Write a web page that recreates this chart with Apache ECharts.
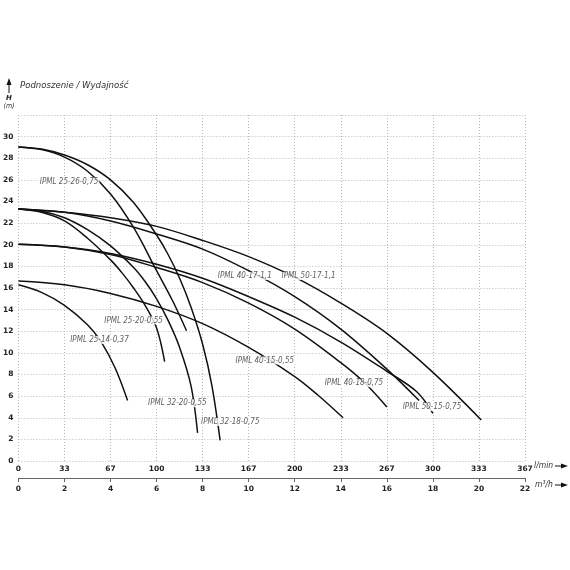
<!DOCTYPE html>
<html>
<head>
<meta charset="utf-8">
<script src="https://cdn.jsdelivr.net/npm/echarts@6/dist/echarts.min.js"></script>
<style>
  html, body { margin: 0; padding: 0; background: #fff; }
  #chart { width: 570px; height: 570px; }
</style>
</head>
<body>
<div id="chart"></div>
<script>
// axis ticks
const flowLpm = ['0', '33', '67', '100', '133', '167', '200', '233', '267', '300', '333', '367'];
const headMax = 32;

// pump curves: flow in m3/h, head in m
const q_25_14 = [0, 1, 2, 3, 3.6, 4.2, 4.74];
const h_25_14 = [16.3, 15.6, 14.4, 12.6, 11.0, 8.6, 5.6];

const q_25_20 = [0, 1, 2, 3, 4, 4.5, 5, 5.5, 6, 6.35];
const h_25_20 = [23.3, 23.0, 22.2, 20.6, 18.6, 17.4, 16.0, 14.4, 12.3, 9.2];

const q_25_26 = [0, 1, 2, 3, 4, 5, 6, 6.7, 7.3];
const h_25_26 = [29.05, 28.8, 28.1, 26.8, 24.7, 21.6, 17.6, 14.8, 12.05];

const q_32_20 = [0, 1, 2, 3, 4, 5, 5.5, 6, 6.5, 7, 7.5, 7.78];
const h_32_20 = [23.3, 23.1, 22.5, 21.4, 19.9, 17.9, 16.6, 15.0, 13.0, 10.5, 6.9, 2.6];

const q_32_18 = [0, 1, 2, 3, 4, 5, 6, 6.5, 7, 7.5, 8, 8.4, 8.76];
const h_32_18 = [29.05, 28.85, 28.3, 27.4, 26.0, 23.9, 20.9, 19.1, 16.9, 14.2, 10.8, 7.0, 1.9];

const q_40_15 = [0, 2, 4, 6, 8, 10, 12, 13, 14.1];
const h_40_15 = [16.65, 16.3, 15.5, 14.3, 12.7, 10.5, 7.8, 6.1, 4.0];

const q_40_17 = [0, 2, 4, 6, 8, 10, 12, 14, 16, 17.4];
const h_40_17 = [23.3, 23.0, 22.2, 21.0, 19.6, 17.6, 15.2, 12.2, 8.5, 5.6];

const q_40_18 = [0, 2, 4, 6, 8, 10, 12, 14, 15, 16];
const h_40_18 = [20.05, 19.8, 19.1, 17.9, 16.5, 14.6, 12.2, 9.1, 7.3, 5.0];

const q_50_15 = [0, 2, 4, 6, 8, 10, 12, 14, 16, 17.3, 18];
const h_50_15 = [20.05, 19.8, 19.2, 18.2, 16.9, 15.2, 13.3, 11.0, 8.3, 6.4, 4.4];

const q_50_17 = [0, 2, 4, 6, 8, 10, 12, 14, 16, 18, 20.1];
const h_50_17 = [23.3, 23.0, 22.5, 21.7, 20.4, 18.9, 17.0, 14.6, 11.8, 8.2, 3.8];

const curveNames = [
  'IPML 25-14-0,37', 'IPML 25-20-0,55', 'IPML 25-26-0,75', 'IPML 32-20-0,55', 'IPML 32-18-0,75',
  'IPML 40-15-0,55', 'IPML 40-17-1,1', 'IPML 40-18-0,75', 'IPML 50-15-0,75', 'IPML 50-17-1,1'
];
const curveQ = [q_25_14, q_25_20, q_25_26, q_32_20, q_32_18, q_40_15, q_40_17, q_40_18, q_50_15, q_50_17];
const curveH = [h_25_14, h_25_20, h_25_26, h_32_20, h_32_18, h_40_15, h_40_17, h_40_18, h_50_15, h_50_17];

const NARROW = "'DejaVu Sans Condensed', 'Liberation Sans Narrow', sans-serif";

const chart = echarts.init(document.getElementById('chart'));

const lineSeries = curveNames.map((name, i) => ({
  name: name,
  type: 'line',
  xAxisIndex: 1,
  data: curveQ[i].map((q, j) => [q, curveH[i][j]]),
  showSymbol: false,
  smooth: 0.35,
  lineStyle: { color: '#111', width: 1.5 },
  z: 2
}));

// where each name sits on its curve (m3/h, m)
const labelSeries = {
  type: 'scatter',
  xAxisIndex: 1,
  symbolSize: 1,
  itemStyle: { color: 'rgba(0,0,0,0)' },
  z: 10,
  silent: true,
  data: [
    [3.52, 11.2, curveNames[0]],
    [5.0, 13.0, curveNames[1]],
    [2.2, 25.85, curveNames[2]],
    [6.9, 5.35, curveNames[3]],
    [9.2, 3.6, curveNames[4]],
    [10.7, 9.3, curveNames[5]],
    [9.83, 17.1, curveNames[6]],
    [12.6, 17.1, curveNames[9]],
    [14.57, 7.2, curveNames[7]],
    [17.96, 5.0, curveNames[8]]
  ],
  label: {
    show: true,
    position: 'inside',
    formatter: p => p.value[2],
    fontFamily: NARROW,
    fontStyle: 'italic',
    fontSize: 8,
    color: '#333',
    backgroundColor: '#fff',
    padding: [0, 1]
  }
};

const gridLine = { show: true, lineStyle: { color: '#b8b8b8', type: [1, 2], width: 1 } };
const tickFont = { fontFamily: 'DejaVu Sans', fontWeight: 'bold', fontSize: 7.5, color: '#222' };

chart.setOption({
  animation: false,
  backgroundColor: '#fff',
  grid: { left: 18, right: 45, top: 115, bottom: 109 },
  xAxis: [
    {
      type: 'value', min: 0, max: 22, interval: 2, position: 'bottom', offset: 0,
      axisLine: { show: false }, axisTick: { show: false },
      axisLabel: Object.assign({ margin: 4, formatter: v => flowLpm[Math.round(v / 2)] }, tickFont),
      splitLine: gridLine
    },
    {
      type: 'value', min: 0, max: 22, interval: 2, position: 'bottom', offset: 17,
      axisLine: { show: true, lineStyle: { color: '#666', width: 1 } },
      axisTick: { show: true, length: 4, lineStyle: { color: '#666' } },
      axisLabel: Object.assign({ margin: 7 }, tickFont),
      splitLine: { show: false }
    }
  ],
  yAxis: {
    type: 'value', min: 0, max: headMax, interval: 2,
    axisLine: { show: false }, axisTick: { show: false },
    axisLabel: Object.assign({ margin: 5, formatter: v => (v === headMax ? '' : String(v)) }, tickFont),
    splitLine: gridLine
  },
  graphic: [
    { type: 'text', left: 20, top: 81, style: { text: 'Podnoszenie / Wydajność', font: 'italic 9.5px ' + NARROW, fill: '#333' } },
    { type: 'line', shape: { x1: 9, y1: 93, x2: 9, y2: 82 }, style: { stroke: '#111', lineWidth: 1 } },
    { type: 'polygon', shape: { points: [[9, 78], [6.5, 85], [11.5, 85]] }, style: { fill: '#111' } },
    { type: 'text', x: 9, y: 98, style: { text: 'H', font: 'italic bold 7px DejaVu Sans', fill: '#222', align: 'center', verticalAlign: 'middle' } },
    { type: 'text', x: 9, y: 106, style: { text: '(m)', font: 'italic 7px ' + NARROW, fill: '#333', align: 'center', verticalAlign: 'middle' } },
    { type: 'text', x: 534, y: 466, style: { text: 'l/min', font: 'italic 8.5px ' + NARROW, fill: '#333', verticalAlign: 'middle' } },
    { type: 'line', shape: { x1: 555, y1: 466, x2: 562, y2: 466 }, style: { stroke: '#111', lineWidth: 1 } },
    { type: 'polygon', shape: { points: [[568, 466], [561, 463.5], [561, 468.5]] }, style: { fill: '#111' } },
    { type: 'text', x: 535, y: 485, style: { text: 'm³/h', font: 'italic 8.5px ' + NARROW, fill: '#333', verticalAlign: 'middle' } },
    { type: 'line', shape: { x1: 555, y1: 485, x2: 562, y2: 485 }, style: { stroke: '#111', lineWidth: 1 } },
    { type: 'polygon', shape: { points: [[568, 485], [561, 482.5], [561, 487.5]] }, style: { fill: '#111' } }
  ],
  series: lineSeries.concat([labelSeries])
});
</script>
</body>
</html>
